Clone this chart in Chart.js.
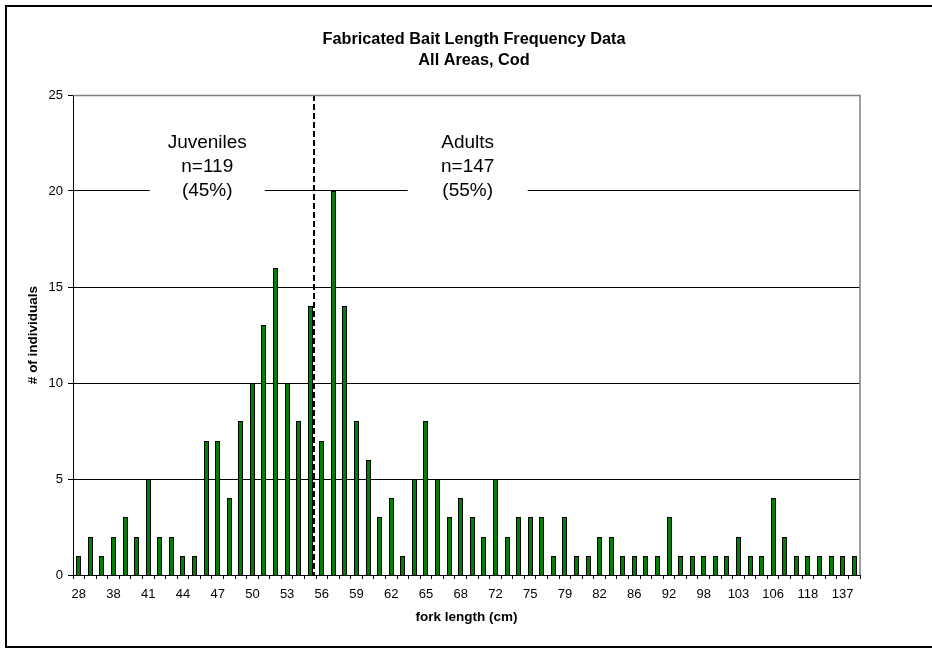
<!DOCTYPE html>
<html>
<head>
<meta charset="utf-8">
<title>Fabricated Bait Length Frequency Data</title>
<script src="https://cdn.jsdelivr.net/npm/chart.js@4/dist/chart.umd.min.js"></script>
<style>
  html, body { margin: 0; padding: 0; background: #fff; overflow: hidden; }
  #wrap { position: relative; width: 932px; height: 649px; }
  #frame {
    position: absolute; left: 5px; top: 5px; width: 1000px; height: 643px;
    box-sizing: border-box; border: 2px solid #000; pointer-events: none;
  }
  canvas { position: absolute; left: 0; top: 0; }
</style>
</head>
<body>
<div id="wrap">
  <div id="frame"></div>
  <canvas id="chart" width="932" height="649"></canvas>
</div>
<script>
// Fork length classes (cm) and number of cod measured in each
const lengths = [
  '28','31','35','38','39','40','41','42','43','44','45','46','47','48','49','50',
  '51','52','53','54','55','56','57','58','59','60','61','62','63','64','65','66',
  '67','68','69','70','72','73','74','75','76','77','79','80','81','82','84','85',
  '86','88','90','92','94','96','98','100','101','103','104','105','106','110',
  '114','118','122','130','137','140'
];
const counts = [
  1,2,1,2,3,2,5,2,2,1,1,7,7,4,8,10,
  13,16,10,8,14,7,20,14,8,6,3,4,1,5,8,5,
  3,4,3,2,5,2,3,3,3,1,3,1,1,2,2,1,
  1,1,1,3,1,1,1,1,1,2,1,1,4,2,
  1,1,1,1,1,1
];
const yTicks = [0, 5, 10, 15, 20, 25];

// Juvenile / adult split, placed just past the 55 cm class
const splitIndex = 20.32;
const groupNotes = [
  { lines: ['Juveniles', 'n=119', '(45%)'], x: 11.1, y: 20, maskWidth: 115 },
  { lines: ['Adults', 'n=147', '(55%)'], x: 33.6, y: 20, maskWidth: 120 }
];

const FONT = 'Arial, "Liberation Sans", sans-serif';

// Snap each bar to whole pixels so its thin outline stays crisp
const crispBars = {
  id: 'crispBars',
  beforeDatasetsDraw(chart) {
    chart.getDatasetMeta(0).data.forEach(el => {
      el.x = Math.floor(el.x) + 0.5;
      el.y = Math.round(el.y);
      el.base = Math.round(el.base);
      el.width = 5;
    });
  }
};

const plotFrame = {
  id: 'plotFrame',
  afterDraw(chart) {
    const { ctx, chartArea: a } = chart;
    ctx.save();
    ctx.strokeStyle = '#808080';
    ctx.lineWidth = 1.5;
    ctx.beginPath();
    ctx.moveTo(a.left, a.top + 0.5);
    ctx.lineTo(a.right, a.top + 0.5);
    ctx.lineTo(a.right, a.bottom);
    ctx.stroke();
    ctx.restore();
  }
};

const splitLine = {
  id: 'splitLine',
  afterDatasetsDraw(chart) {
    const { ctx, chartArea: a, scales: { x } } = chart;
    const px = Math.round(x.getPixelForValue(splitIndex));
    ctx.save();
    ctx.strokeStyle = '#000';
    ctx.lineWidth = 2;
    ctx.setLineDash([6, 3]);
    ctx.beginPath();
    ctx.moveTo(px, a.top);
    ctx.lineTo(px, a.bottom);
    ctx.stroke();
    ctx.restore();
  }
};

const notes = {
  id: 'notes',
  afterDatasetsDraw(chart) {
    const { ctx, scales: { x, y } } = chart;
    ctx.save();
    ctx.font = '19px ' + FONT;
    ctx.textAlign = 'center';
    ctx.textBaseline = 'middle';
    groupNotes.forEach(n => {
      const cx = x.getPixelForValue(n.x);
      const cy = y.getPixelForValue(n.y);
      ctx.fillStyle = '#fff';
      ctx.fillRect(cx - n.maskWidth / 2, cy - 60, n.maskWidth, 74);
      ctx.fillStyle = '#000';
      n.lines.forEach((t, i) => {
        ctx.fillText(t, cx, cy - (n.lines.length - 1 - i) * 24);
      });
    });
    ctx.restore();
  }
};

new Chart(document.getElementById('chart'), {
  type: 'bar',
  data: {
    labels: lengths,
    datasets: [{
      data: counts,
      backgroundColor: '#008000',
      borderColor: '#000',
      borderWidth: 1,
      barPercentage: 0.46,
      categoryPercentage: 1
    }]
  },
  plugins: [crispBars, plotFrame, notes, splitLine],
  options: {
    responsive: false,
    animation: false,
    events: [],
    layout: { padding: { left: 16, right: 0, top: 0, bottom: 10 } },
    plugins: {
      legend: { display: false },
      tooltip: { enabled: false },
      title: {
        display: true,
        text: ['Fabricated Bait Length Frequency Data', 'All Areas, Cod'],
        color: '#000',
        font: { family: FONT, size: 16.3, weight: 'bold', lineHeight: '21px' },
        padding: { top: 29.5, bottom: 23.5 }
      }
    },
    scales: {
      x: {
        type: 'category',
        offset: true,
        grid: {
          offset: true,
          drawOnChartArea: false,
          drawTicks: true,
          tickLength: 4,
          tickColor: '#000',
          color: '#000'
        },
        border: { display: true, color: '#000', width: 1 },
        ticks: {
          autoSkip: false,
          maxRotation: 0,
          minRotation: 0,
          padding: 8,
          color: '#000',
          font: { family: FONT, size: 13 },
          callback(value, index) {
            return index % 3 === 0 ? this.getLabelForValue(value) : '';
          }
        },
        title: {
          display: true,
          text: 'fork length (cm)',
          color: '#000',
          font: { family: FONT, size: 13.5, weight: 'bold' },
          padding: { top: 0, bottom: 14 }
        },
        afterFit(scale) { scale.height = 64; }
      },
      y: {
        min: yTicks[0],
        max: yTicks[yTicks.length - 1],
        afterBuildTicks(scale) { scale.ticks = yTicks.map(v => ({ value: v })); },
        grid: {
          color(c) { return c.tick && c.tick.value === 25 ? '#808080' : '#000'; },
          tickColor: '#000',
          tickLength: 5,
          lineWidth: 1
        },
        border: { display: true, color: '#000', width: 1 },
        ticks: {
          padding: 5,
          color: '#000',
          font: { family: FONT, size: 13 }
        },
        title: {
          display: true,
          text: '# of individuals',
          color: '#000',
          font: { family: FONT, size: 13.5, weight: 'bold' },
          padding: { top: 9, bottom: 0 }
        },
        afterFit(scale) { scale.width = 57; }
      },
      spacer: {
        type: 'linear',
        position: 'right',
        display: true,
        grid: { display: false, drawTicks: false },
        border: { display: false },
        ticks: { display: false },
        afterFit(scale) { scale.width = 72; }
      }
    }
  }
});
</script>
</body>
</html>
